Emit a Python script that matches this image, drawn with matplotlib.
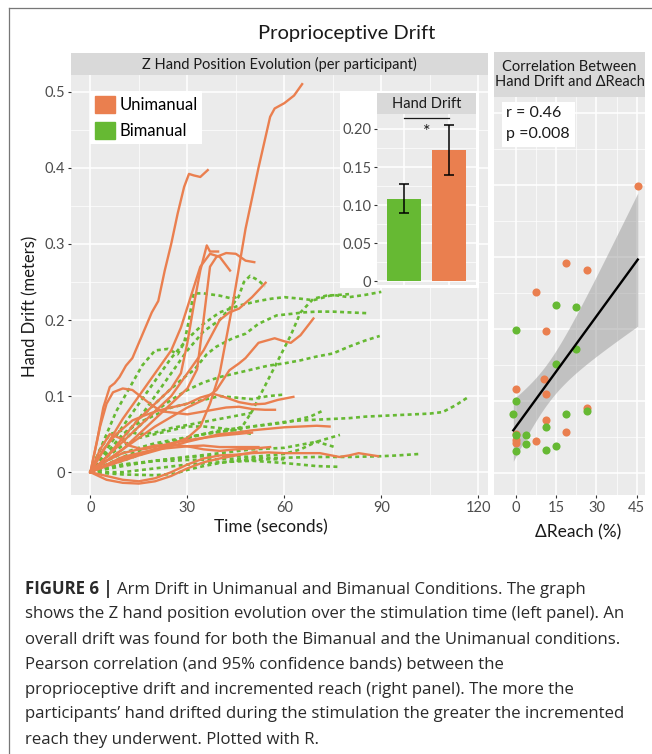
import numpy as np
import matplotlib
matplotlib.use('Agg')
import matplotlib.pyplot as plt
from matplotlib.patches import Rectangle, Patch
from matplotlib.ticker import FixedLocator, FuncFormatter

plt.rcParams['font.family'] = ['Lato', 'DejaVu Sans']

W, H = 652, 754
ORANGE = '#EA7F4F'
GREEN = '#66B933'
PANEL = '#EBEBEB'
STRIP = '#D9D9D9'
TICK = '#4D4D4D'
DARK = '#1A1A1A'

# ---- data ----
# Unimanual participants: time (s) and Z hand drift (m)
uni_time = [
    [0, 8, 16, 24, 30, 34, 37, 40, 44, 48, 52, 55.6, 57, 60, 63, 65.5],
    [0, 2, 4, 6, 7.5, 9, 11, 13, 15, 17, 19, 21, 23, 25, 27, 29, 30.5, 32, 34, 36.3],
    [0, 5, 10, 15, 20, 25, 28, 30, 32, 34, 36, 37, 39.5],
    [0, 5, 10, 15, 20, 25, 30, 33, 35, 37, 39, 42, 45, 48, 50.7],
    [0, 5, 10, 15, 20, 25, 28, 31, 34, 37, 40, 43.2],
    [0, 5, 10, 15, 20, 25, 30, 35, 40, 43, 46, 50, 54.2],
    [0, 10, 20, 30, 35, 39, 43, 46, 48, 52, 57, 60, 62, 65, 69],
    [0, 4, 8, 13, 17, 21, 25, 30, 34, 38, 42, 46, 50, 54, 58, 62.8],
    [0, 3, 5, 7, 10, 13, 16, 19, 22, 26, 30, 34, 38, 42, 46, 50, 54, 57.1],
    [0, 5, 10, 15, 20, 25, 30, 35, 40, 45, 50, 55, 60, 65, 70, 74],
    [0, 5, 10, 15, 20, 25, 30, 35, 40, 45, 50, 55, 60, 65, 71, 77, 80, 83, 86, 89],
    [0, 5, 10, 15, 20, 25, 30, 35, 40, 45, 52],
    [0, 5, 10, 15, 20, 25, 30, 35, 40, 45, 51.4],
    [0, 5, 10, 15, 20, 25, 30, 35, 40, 45, 50, 55.6],
    [0, 3, 6, 9, 12, 16, 20, 25, 30, 35, 40, 45, 50],
]
uni_drift = [
    [0, 0.015, 0.025, 0.035, 0.045, 0.06, 0.09, 0.13, 0.22, 0.32, 0.40, 0.467, 0.478, 0.485, 0.495, 0.510],
    [0, 0.04, 0.085, 0.112, 0.117, 0.125, 0.14, 0.15, 0.17, 0.19, 0.21, 0.225, 0.265, 0.30, 0.34, 0.375, 0.392, 0.39, 0.388, 0.397],
    [0, 0.02, 0.045, 0.07, 0.09, 0.11, 0.13, 0.17, 0.22, 0.265, 0.298, 0.29, 0.29],
    [0, 0.015, 0.03, 0.05, 0.07, 0.09, 0.11, 0.135, 0.2, 0.27, 0.283, 0.288, 0.287, 0.278, 0.276],
    [0, 0.035, 0.07, 0.1, 0.13, 0.16, 0.19, 0.23, 0.27, 0.287, 0.283, 0.265],
    [0, 0.02, 0.04, 0.06, 0.08, 0.1, 0.13, 0.16, 0.2, 0.21, 0.215, 0.23, 0.249],
    [0, 0.03, 0.06, 0.085, 0.095, 0.108, 0.134, 0.143, 0.15, 0.17, 0.176, 0.172, 0.17, 0.18, 0.202],
    [0, 0.03, 0.05, 0.068, 0.075, 0.081, 0.085, 0.09, 0.098, 0.103, 0.098, 0.092, 0.089, 0.09, 0.095, 0.099],
    [0, 0.06, 0.09, 0.105, 0.11, 0.108, 0.098, 0.088, 0.08, 0.078, 0.076, 0.079, 0.082, 0.085, 0.086, 0.083, 0.082, 0.082],
    [0, 0.008, 0.015, 0.022, 0.028, 0.034, 0.04, 0.045, 0.05, 0.052, 0.055, 0.057, 0.059, 0.060, 0.061, 0.060],
    [0, -0.005, -0.01, -0.012, -0.008, 0.0, 0.01, 0.018, 0.022, 0.023, 0.025, 0.026, 0.025, 0.025, 0.025, 0.02, 0.022, 0.025, 0.023, 0.021],
    [0, 0.01, 0.02, 0.025, 0.03, 0.032, 0.034, 0.035, 0.033, 0.033, 0.033],
    [0, -0.01, -0.014, -0.015, -0.012, -0.005, 0.005, 0.013, 0.018, 0.022, 0.027],
    [0, 0.015, 0.025, 0.03, 0.035, 0.036, 0.034, 0.03, 0.028, 0.03, 0.031, 0.033],
    [0, 0.03, 0.05, 0.045, 0.035, 0.03, 0.033, 0.038, 0.042, 0.045, 0.048, 0.05, 0.052],
]

# Bimanual participants
bi_time = [
    [0, 5, 10, 15, 20, 25, 30, 35, 40, 43, 45.8, 47.5, 49.4, 52, 54],
    [0, 4, 8, 12, 16, 20, 24, 27, 29, 30.5, 31.9, 35, 40, 44, 46],
    [0, 5, 10, 15, 20, 25, 30, 35, 40, 46, 52, 56, 60, 65, 69, 75, 80, 85, 90],
    [0, 5, 10, 15, 20, 25, 30, 35, 40, 44, 47, 50, 53, 56, 59, 62, 65, 69, 73, 77, 80],
    [0, 5, 10, 15, 20, 25, 30, 32, 36, 39, 44, 48, 52, 57.6, 62, 66, 70, 75, 80, 85.4],
    [0, 5, 10, 15, 20, 25, 30, 35, 40, 45, 50, 55, 60, 65, 70, 75, 80, 85, 89.5],
    [0, 5, 10, 15, 20, 25, 30, 35, 40, 45, 50, 55, 60, 65, 70, 75, 80, 85, 90, 95, 100, 105, 109, 113, 117],
    [0, 5, 10, 15, 20, 25, 30, 40, 50, 60, 70, 80, 90, 95, 102],
    [0, 10, 20, 30, 40, 50, 60, 65, 68, 71.5],
    [0, 10, 20, 30, 40, 50, 60, 65, 70, 74, 77.2],
    [0, 10, 20, 30, 40, 50, 60, 65, 70, 75.6],
    [0, 10, 20, 30, 40, 50, 60, 65, 70, 77],
    [0, 10, 20, 26, 30, 35, 40, 45, 50, 55, 60],
    [0, 3, 6, 10, 15, 20, 25, 30, 35, 40, 45, 50],
    [0, 5, 10, 15, 20, 25, 30, 35, 40, 45, 50, 55, 60],
    [0, 5, 10, 15, 20, 25, 30, 35, 40, 45, 50],
]
bi_drift = [
    [0, 0.02, 0.045, 0.07, 0.1, 0.13, 0.16, 0.185, 0.2, 0.215, 0.23, 0.25, 0.258, 0.252, 0.244],
    [0, 0.04, 0.08, 0.11, 0.14, 0.16, 0.162, 0.155, 0.17, 0.2, 0.235, 0.235, 0.232, 0.228, 0.232],
    [0, 0.03, 0.06, 0.09, 0.12, 0.15, 0.175, 0.195, 0.21, 0.219, 0.225, 0.228, 0.23, 0.228, 0.226, 0.233, 0.23, 0.233, 0.237],
    [0, 0.015, 0.025, 0.032, 0.038, 0.042, 0.046, 0.05, 0.053, 0.055, 0.06, 0.08, 0.105, 0.13, 0.155, 0.18, 0.21, 0.228, 0.232, 0.233, 0.234],
    [0, 0.02, 0.045, 0.07, 0.09, 0.11, 0.128, 0.134, 0.155, 0.165, 0.176, 0.182, 0.195, 0.206, 0.208, 0.21, 0.211, 0.211, 0.21, 0.209],
    [0, 0.02, 0.04, 0.06, 0.08, 0.095, 0.108, 0.118, 0.125, 0.13, 0.135, 0.14, 0.143, 0.147, 0.152, 0.156, 0.165, 0.173, 0.179],
    [0, 0.01, 0.02, 0.028, 0.035, 0.04, 0.045, 0.05, 0.053, 0.056, 0.06, 0.063, 0.066, 0.068, 0.069, 0.07, 0.071, 0.073, 0.074, 0.075, 0.076, 0.077, 0.079, 0.088, 0.099],
    [0, 0.005, 0.01, 0.012, 0.015, 0.015, 0.016, 0.017, 0.018, 0.019, 0.02, 0.02, 0.021, 0.022, 0.024],
    [0, 0.015, 0.03, 0.045, 0.055, 0.06, 0.065, 0.07, 0.073, 0.08],
    [0, 0.008, 0.015, 0.02, 0.025, 0.03, 0.032, 0.036, 0.04, 0.045, 0.049],
    [0, 0.01, 0.015, 0.02, 0.022, 0.02, 0.024, 0.03, 0.04, 0.033],
    [0, 0.0, 0.005, 0.01, 0.013, 0.015, 0.012, 0.01, 0.008, 0.007],
    [0, -0.003, -0.004, -0.002, 0.003, 0.008, 0.012, 0.015, 0.016, 0.017, 0.017],
    [0, 0.03, 0.05, 0.055, 0.05, 0.052, 0.058, 0.062, 0.066, 0.07, 0.074, 0.078],
    [0, 0.025, 0.05, 0.065, 0.075, 0.085, 0.09, 0.095, 0.1, 0.098, 0.096, 0.1, 0.102],
    [0, 0.02, 0.035, 0.045, 0.05, 0.055, 0.06, 0.06, 0.058, 0.055, 0.05],
]

# inset bar chart: mean drift with error bars
bar_groups = ['Bimanual', 'Unimanual']
bar_mean = [0.108, 0.173]
bar_low = [0.0895, 0.139]
bar_high = [0.1276, 0.2057]

# correlation panel: delta reach (%) vs hand drift (m)
reach_uni = [45.4, 18.8, 26.4, 7.5, 11.2, 10.6, -0.1, 11.2, 26.4, 11.2, 18.8, 0, 0, 0, 7.5]
drift_uni = [0.398, 0.292, 0.282, 0.251, 0.197, 0.131, 0.117, 0.110, 0.090, 0.074, 0.058, 0.054, 0.046, 0.042, 0.045]
reach_bi = [14.9, 22.5, 0, 22.5, 14.9, 0, -1, 18.8, 26.4, 11.2, 0, 3.6, 3.6, 14.9, 0, 11.2]
drift_bi = [0.233, 0.231, 0.199, 0.172, 0.151, 0.100, 0.083, 0.083, 0.087, 0.065, 0.053, 0.053, 0.041, 0.038, 0.031, 0.032]
stats_text = ['r = 0.46', 'p =0.008']

caption_head = 'FIGURE 6 |'
caption_lines = [
    'Arm Drift in Unimanual and Bimanual Conditions. The graph',
    'shows the Z hand position evolution over the stimulation time (left panel). An',
    'overall drift was found for both the Bimanual and the Unimanual conditions.',
    'Pearson correlation (and 95% confidence bands) between the',
    'proprioceptive drift and incremented reach (right panel). The more the',
    'participants\u2019 hand drifted during the stimulation the greater the incremented',
    'reach they underwent. Plotted with R.',
]


def rect(x0, y0, x1, y1):
    # pixel box -> figure fraction
    return [x0 / W, 1 - y1 / H, (x1 - x0) / W, (y1 - y0) / H]


def ggstyle(ax):
    ax.set_facecolor(PANEL)
    for s in ax.spines.values():
        s.set_visible(False)
    ax.grid(which='major', color='white', lw=1.1)
    ax.grid(which='minor', color='white', lw=0.5)
    ax.set_axisbelow(True)
    ax.tick_params(which='major', direction='out', length=2.5, width=0.8,
                   color='#333333', labelcolor=TICK, labelsize=10.5, pad=1.5)
    ax.tick_params(which='minor', length=0)


fig = plt.figure(figsize=(W / 100, H / 100), dpi=100)

# overlay in pixel coords for strips, titles and caption
ov = fig.add_axes([0, 0, 1, 1], zorder=1)
ov.set_xlim(0, W)
ov.set_ylim(H, 0)
ov.axis('off')

# ---- left panel: trajectories ----
ax1 = fig.add_axes(rect(71, 75, 488, 495), zorder=0)
ggstyle(ax1)
ax1.set_xlim(-6, 123)
ax1.set_ylim(-0.030, 0.522)
ax1.xaxis.set_major_locator(FixedLocator([0, 30, 60, 90, 120]))
ax1.xaxis.set_minor_locator(FixedLocator([15, 45, 75, 105]))
ax1.yaxis.set_major_locator(FixedLocator([0, 0.1, 0.2, 0.3, 0.4, 0.5]))
ax1.yaxis.set_minor_locator(FixedLocator([0.05, 0.15, 0.25, 0.35, 0.45]))
ax1.yaxis.set_major_formatter(FuncFormatter(lambda v, p: '0' if abs(v) < 1e-9 else f'{v:g}'))

for t, d in zip(bi_time, bi_drift):
    ax1.plot(t, d, color=GREEN, lw=1.9, linestyle=(0, (1.5, 1.3)))
for t, d in zip(uni_time, uni_drift):
    ax1.plot(t, d, color=ORANGE, lw=1.7)

ax1.legend(handles=[Patch(color=ORANGE, label='Unimanual'), Patch(color=GREEN, label='Bimanual')],
           loc='upper left', bbox_to_anchor=(90 / W, 1 - 91 / H), bbox_transform=fig.transFigure,
           fancybox=False, edgecolor='none', facecolor='white', framealpha=1,
           fontsize=12, handlelength=1.2, handleheight=1.15, borderpad=0.3,
           labelspacing=0.55, handletextpad=0.25, borderaxespad=0)

# ---- right panel: correlation ----
ax2 = fig.add_axes(rect(494, 97, 645, 495), zorder=0)
ggstyle(ax2)
ax2.set_xlim(-8.2, 48.1)
ax2.set_ylim(ax1.get_ylim())
ax2.xaxis.set_major_locator(FixedLocator([0, 15, 30, 45]))
ax2.xaxis.set_minor_locator(FixedLocator([7.5, 22.5, 37.5]))
ax2.yaxis.set_major_locator(FixedLocator([0, 0.1, 0.2, 0.3, 0.4, 0.5]))
ax2.yaxis.set_minor_locator(FixedLocator([0.05, 0.15, 0.25, 0.35, 0.45]))
ax2.tick_params(axis='y', length=0, labelleft=False)

x_all = np.array(reach_uni + reach_bi)
y_all = np.array(drift_uni + drift_bi)
slope, intercept = np.polyfit(x_all, y_all, 1)
xs = np.linspace(x_all.min(), x_all.max(), 100)
fit = intercept + slope * xs
n = len(x_all)
resid = y_all - (intercept + slope * x_all)
s = np.sqrt(np.sum(resid ** 2) / (n - 2))
se = s * np.sqrt(1 / n + (xs - x_all.mean()) ** 2 / np.sum((x_all - x_all.mean()) ** 2))
tval = 2.045  # t(0.975, df=29)
ax2.fill_between(xs, fit - tval * se, fit + tval * se, color='#999999', alpha=0.5, lw=0, zorder=2)
ax2.scatter(reach_uni, drift_uni, s=34, color=ORANGE, lw=0, zorder=3)
ax2.scatter(reach_bi, drift_bi, s=34, color=GREEN, lw=0, zorder=3)
ax2.plot(xs, fit, color='black', lw=1.7, zorder=4)

# ---- inset bar chart ----
ov.add_patch(Rectangle((340, 91), 139, 197, color='white', lw=0))
axi = fig.add_axes(rect(377, 114, 476, 285), zorder=2)
ggstyle(axi)
pos = [1, 2]
axi.set_xlim(0.4, 2.6)
axi.set_ylim(-0.005, 0.2197)
axi.bar(pos, bar_mean, width=0.75, color=[GREEN, ORANGE], zorder=2)
axi.errorbar(pos, bar_mean,
             yerr=[np.array(bar_mean) - np.array(bar_low), np.array(bar_high) - np.array(bar_mean)],
             fmt='none', ecolor='black', elinewidth=1.1, capsize=3.5, capthick=1.1, zorder=3)
axi.xaxis.set_major_locator(FixedLocator(pos))
axi.tick_params(axis='x', length=0, labelbottom=False)
axi.yaxis.set_major_locator(FixedLocator([0, 0.05, 0.10, 0.15, 0.20]))
axi.yaxis.set_minor_locator(FixedLocator([0.025, 0.075, 0.125, 0.175]))
axi.set_yticklabels(['0', '0.05', '0.10', '0.15', '0.20'])
axi.plot(pos, [0.2146, 0.2146], color=DARK, lw=0.9, clip_on=False, zorder=4)
axi.text(1.5, 0.2065, '*', ha='center', va='top', fontsize=13, color=DARK)

# ---- strips, title, labels ----
def strip(x0, y0, x1, y1, label, size=10.5):
    ov.add_patch(Rectangle((x0, y0), x1 - x0, y1 - y0, color=STRIP, lw=0))
    ov.text((x0 + x1) / 2, (y0 + y1) / 2, label, ha='center', va='center',
            fontsize=size, color=DARK, linespacing=1.05)

strip(71, 53, 488, 75, 'Z Hand Position Evolution (per participant)')
strip(494, 52, 645, 97, 'Correlation Between\nHand Drift and \u0394Reach')
strip(377, 93, 476, 114, 'Hand Drift')

ov.add_patch(Rectangle((502, 102), 73, 45, color='white', lw=0))
ov.text(506, 113, stats_text[0], ha='left', va='center', fontsize=11.5, color=DARK)
ov.text(506, 134, stats_text[1], ha='left', va='center', fontsize=11.5, color=DARK)

ov.text(347, 33, 'Proprioceptive Drift', ha='center', va='center', fontsize=14.5, color=DARK)
ov.text(271, 527, 'Time (seconds)', ha='center', va='center', fontsize=12.5, color=DARK)
ov.text(578, 532, '\u0394Reach (%)', ha='center', va='center', fontsize=12.5, color=DARK)
ov.text(30, 306, 'Hand Drift (meters)', ha='center', va='center', rotation=90,
        fontsize=12, color=DARK)

# frame
ov.plot([9, 9], [H, 8], color='#777777', lw=0.9)
ov.plot([9, W], [8, 8], color='#777777', lw=0.9)

# ---- caption ----
cap_font = dict(family=['Open Sans', 'DejaVu Sans'], fontsize=12.1, color='#2A2A2A')
head = ov.text(25, 593.5, caption_head, ha='left', va='baseline', fontweight='bold', **cap_font)
ov.annotate(caption_lines[0], xy=(1, 0), xycoords=head, xytext=(3, 0),
            textcoords='offset points', ha='left', va='bottom', **cap_font)
for i, line in enumerate(caption_lines[1:], start=1):
    ov.text(25, 593.5 + 25 * i, line, ha='left', va='baseline', **cap_font)

fig.savefig('out.png', dpi=100)
